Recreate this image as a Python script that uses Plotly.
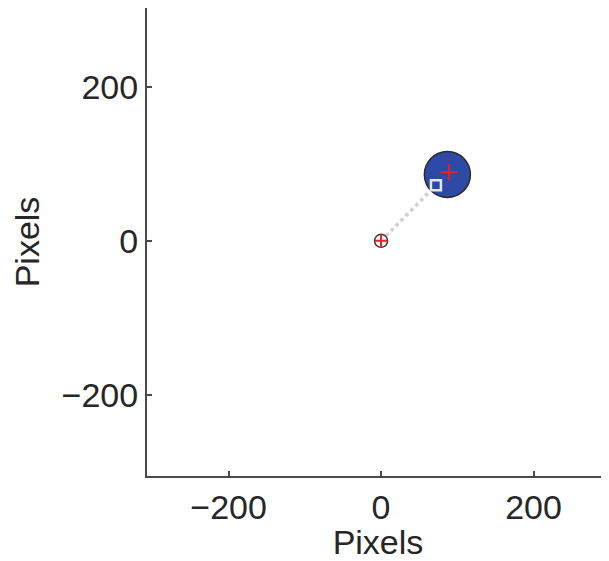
import plotly.graph_objects as go

# Data
origin_x = [0]
origin_y = [0]
target_x = [87]
target_y = [86]
center_x = [89]
center_y = [89]
path_x = [0, 72]
path_y = [0, 72]
cursor_x = [72]
cursor_y = [72]
tick_vals = [-200, 0, 200]
tick_text = ["\u2212200", "0", "200"]

fig = go.Figure()
fig.add_trace(go.Scatter(x=path_x, y=path_y, mode="lines",
                         line=dict(color="#cfcfcf", width=3.5, dash="dot"),
                         hoverinfo="skip"))
fig.add_trace(go.Scatter(x=target_x, y=target_y, mode="markers",
                         marker=dict(size=46, color="#2e4aa6",
                                     line=dict(color="#2a2a2a", width=1.5))))
fig.add_trace(go.Scatter(x=center_x, y=center_y, mode="markers",
                         marker=dict(symbol="cross-thin", size=12, color="#e8202a",
                                     line=dict(color="#e8202a", width=2))))
fig.add_trace(go.Scatter(x=cursor_x, y=cursor_y, mode="markers",
                         marker=dict(symbol="square-open", size=10, color="#e4e6ee",
                                     line=dict(color="#e4e6ee", width=2.5))))
fig.add_trace(go.Scatter(x=origin_x, y=origin_y, mode="markers",
                         marker=dict(size=13, color="#f4f4f4",
                                     line=dict(color="#3a3a3a", width=1.5))))
fig.add_trace(go.Scatter(x=origin_x, y=origin_y, mode="markers",
                         marker=dict(symbol="cross-thin", size=9, color="#e8202a",
                                     line=dict(color="#e8202a", width=2))))

font_family = "Liberation Sans, Arial, sans-serif"
axis_common = dict(
    tickvals=tick_vals, ticktext=tick_text,
    ticks="inside", ticklen=5, tickwidth=1.5, tickcolor="#4a4a4a",
    showline=True, linecolor="#4a4a4a", linewidth=2,
    showgrid=False, zeroline=False, mirror=False,
    tickfont=dict(family=font_family, size=34, color="#262626"),
    title_font=dict(family=font_family, size=34, color="#262626"),
)
fig.update_layout(
    width=601, height=553,
    margin=dict(l=139, r=0, t=0, b=85),
    plot_bgcolor="white", paper_bgcolor="white",
    showlegend=False,
    xaxis=dict(range=[-307, 299], title=dict(text="Pixels", standoff=0), **axis_common),
    yaxis=dict(range=[-305, 302], title=dict(text="Pixels", standoff=12), **axis_common),
)
fig.write_html("out.html")
